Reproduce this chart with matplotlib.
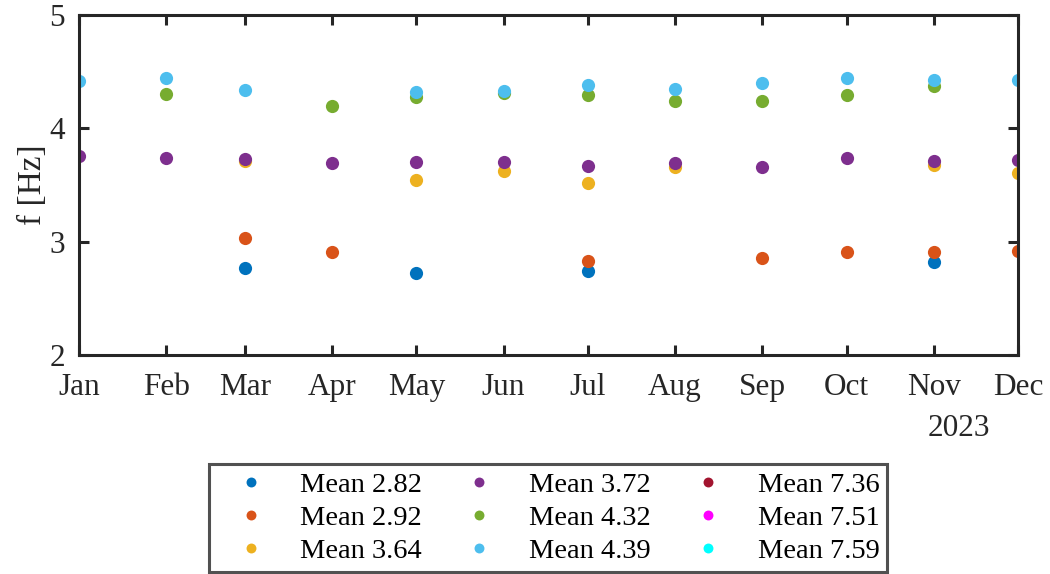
import datetime as dt
import numpy as np
import matplotlib
matplotlib.use("Agg")
import matplotlib.pyplot as plt
import matplotlib.dates as mdates
import matplotlib as mpl

mpl.rcParams.update({
    'font.family': ['Liberation Serif', 'DejaVu Serif'],
    'axes.unicode_minus': False,
})

# data (NaN = no point that month)
months = [dt.datetime(2023, m, 1) for m in range(1, 13)]
nan = np.nan
f_282 = [nan, nan, 2.77, nan, 2.72, nan, 2.74, nan, nan, nan, 2.82, nan]
f_292 = [nan, nan, 3.03, 2.91, nan, nan, 2.83, nan, 2.86, 2.91, 2.91, 2.92]
f_364 = [nan, nan, 3.71, nan, 3.54, 3.62, 3.52, 3.66, nan, nan, 3.68, 3.61]
f_372 = [3.76, 3.74, 3.73, 3.69, 3.70, 3.70, 3.67, 3.69, 3.66, 3.74, 3.71, 3.72]
f_432 = [nan, 4.30, nan, 4.20, 4.28, 4.31, 4.29, 4.24, 4.24, 4.29, 4.37, nan]
f_439 = [4.42, 4.44, 4.34, nan, 4.32, 4.33, 4.38, 4.35, 4.40, 4.44, 4.43, 4.43]
f_736 = []
f_751 = []
f_759 = []

series = [f_282, f_292, f_364, f_372, f_432, f_439, f_736, f_751, f_759]
labels = ['Mean 2.82', 'Mean 2.92', 'Mean 3.64', 'Mean 3.72', 'Mean 4.32',
          'Mean 4.39', 'Mean 7.36', 'Mean 7.51', 'Mean 7.59']
colors = ['#0072BD', '#D95319', '#EDB120', '#7E2F8E', '#77AC30',
          '#4DBEEE', '#A2142F', '#FF00FF', '#00FFFF']

dark = '#262626'

fig = plt.figure(figsize=(10.5, 5.74), dpi=100)
ax = fig.add_axes([79 / 1050, 1 - 355 / 574, (1018 - 79) / 1050, (355 - 15) / 574])

for vals, lab, col in zip(series, labels, colors):
    x = months[:len(vals)]
    ax.plot(x, vals, 'o', color=col, markersize=9.5, markeredgewidth=0, label=lab)

ax.set_xlim(months[0], months[-1])
ax.set_ylim(2, 5)
ax.set_yticks([2, 3, 4, 5])
ax.xaxis.set_major_locator(mdates.MonthLocator())
ax.xaxis.set_major_formatter(mdates.DateFormatter('%b'))

for sp in ax.spines.values():
    sp.set_linewidth(2.2)
    sp.set_color(dark)
ax.tick_params(direction='in', length=7, width=2.2, color=dark,
               top=True, right=True, labelsize=22.5, labelcolor=dark)
ax.tick_params(axis='x', pad=13)
ax.tick_params(axis='y', pad=10)
ax.set_ylabel('f [Hz]', fontsize=24, color=dark, labelpad=1)

fig.text(959 / 1050, 1 - 428 / 574, '2023', fontsize=22.5, color=dark,
         ha='center', va='center')

leg = fig.legend(loc='upper center', ncol=3, fontsize=20.5,
                 bbox_to_anchor=(548 / 1050, 1 - 464 / 574),
                 frameon=True, fancybox=False, borderaxespad=0,
                 markerscale=0.75, handlelength=2.4, handletextpad=0.55,
                 labelspacing=0.25, borderpad=0.28, columnspacing=0.8)
leg.get_frame().set_edgecolor(dark)
leg.get_frame().set_linewidth(2.2)
for t in leg.get_texts():
    t.set_color('black')

fig.savefig('out.png', dpi=100)
